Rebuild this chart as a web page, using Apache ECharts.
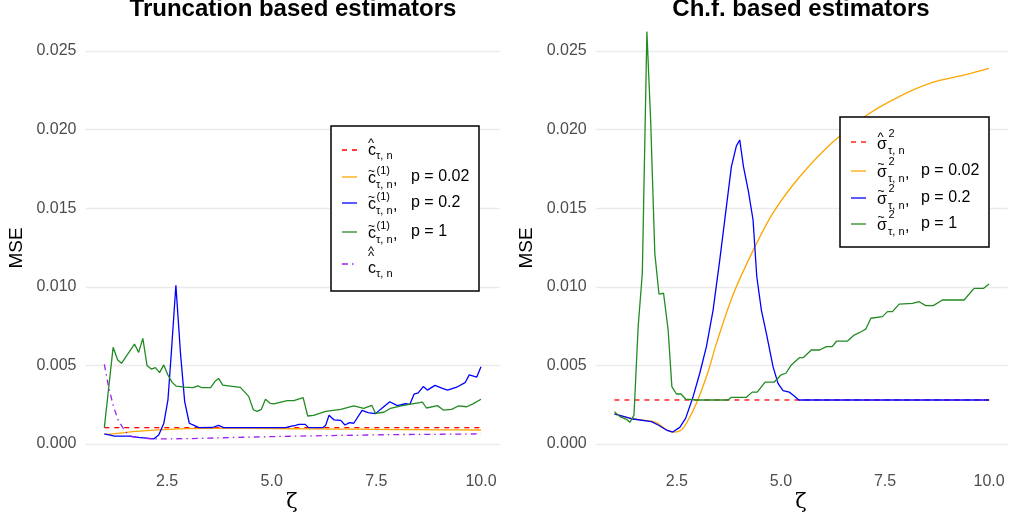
<!DOCTYPE html>
<html>
<head>
<meta charset="utf-8">
<script src="https://cdn.jsdelivr.net/npm/echarts@6/dist/echarts.min.js"></script>
<style>
html, body { margin: 0; padding: 0; background: #fff; }
#chart { width: 1011px; height: 522px; }
</style>
</head>
<body>
<div id="chart"></div>
<script>
// ---- data: [zeta, MSE] ----
var xTicks = [2.5, 5.0, 7.5, 10.0];

// truncation based estimators
var truncHat = [[1.0, 0.00104], [10.0, 0.00104]];
var truncP002 = [[1.0, 0.0006], [1.25, 0.00066], [1.5, 0.00073], [1.75, 0.0008], [2.0, 0.00085], [2.5, 0.00093],
    [3.0, 0.00098], [4.0, 0.001], [5.0, 0.00098], [6.0, 0.00096], [7.0, 0.00094], [8.0, 0.00092], [9.0, 0.0009], [10.0, 0.00089]];
var truncP02 = [[1.0, 0.00064], [1.22, 0.00051], [1.58, 0.00050], [1.82, 0.00042], [2.18, 0.00032], [2.30, 0.00057],
    [2.42, 0.00130], [2.52, 0.00280], [2.60, 0.00577], [2.71, 0.01010], [2.82, 0.00577], [2.92, 0.00269], [3.03, 0.00132],
    [3.13, 0.00120], [3.26, 0.00104], [3.58, 0.00105], [3.73, 0.00119], [3.85, 0.00104], [5.33, 0.00104], [5.45, 0.00112],
    [5.57, 0.00119], [5.65, 0.00125], [5.80, 0.00125], [5.88, 0.00104], [6.22, 0.00104], [6.29, 0.00120], [6.37, 0.00183],
    [6.49, 0.00153], [6.65, 0.00150], [6.75, 0.00121], [6.86, 0.00136], [6.96, 0.00132], [7.16, 0.00214], [7.30, 0.00200],
    [7.48, 0.00193], [7.62, 0.00225], [7.82, 0.00269], [8.00, 0.00244], [8.20, 0.00256], [8.30, 0.00252], [8.40, 0.00317],
    [8.50, 0.00325], [8.62, 0.00365], [8.72, 0.00343], [8.90, 0.00373], [9.08, 0.00354], [9.20, 0.00343], [9.44, 0.00364],
    [9.62, 0.00390], [9.72, 0.00440], [9.90, 0.00426], [10.0, 0.00492]];
var truncP1 = [[1.0, 0.00104], [1.21, 0.00615], [1.32, 0.00534], [1.41, 0.00513], [1.72, 0.00636], [1.82, 0.00583],
    [1.92, 0.00672], [2.02, 0.00500], [2.12, 0.00477], [2.22, 0.00486], [2.32, 0.00454], [2.42, 0.00503], [2.52, 0.00439],
    [2.62, 0.00392], [2.72, 0.00368], [2.92, 0.00362], [3.12, 0.00358], [3.24, 0.00370], [3.33, 0.00358], [3.54, 0.00358],
    [3.64, 0.00397], [3.73, 0.00417], [3.83, 0.00374], [4.25, 0.00360], [4.45, 0.00303], [4.56, 0.00218], [4.65, 0.00207],
    [4.75, 0.00220], [4.85, 0.00284], [4.96, 0.00259], [5.05, 0.00255], [5.37, 0.00276], [5.53, 0.00276], [5.75, 0.00295],
    [5.86, 0.00178], [6.0, 0.00182], [6.29, 0.00208], [6.65, 0.00220], [6.96, 0.00242], [7.2, 0.00227], [7.39, 0.00246],
    [7.48, 0.00195], [7.68, 0.00202], [7.84, 0.00227], [8.12, 0.00244], [8.6, 0.00267], [8.7, 0.00229], [8.96, 0.00244],
    [9.1, 0.00216], [9.3, 0.00220], [9.46, 0.00242], [9.66, 0.00237], [9.82, 0.00257], [10.0, 0.00285]];
var truncDoubleHat = [[1.0, 0.00507], [1.1, 0.00365], [1.22, 0.00237], [1.33, 0.00153], [1.5, 0.00078], [1.66, 0.00047],
    [1.9, 0.00038], [2.2, 0.00032], [3.0, 0.00034], [4.0, 0.00041], [5.0, 0.00047], [6.0, 0.00052], [7.0, 0.00056],
    [8.0, 0.0006], [9.0, 0.00062], [10.0, 0.00064]];

// ch.f. based estimators
var chfHat = [[1.0, 0.0028], [10.0, 0.0028]];
var chfP002 = [[1.0, 0.0019], [1.45, 0.0016], [1.89, 0.00145], [2.05, 0.0013], [2.25, 0.0009], [2.45, 0.00076],
    [2.6, 0.00088], [2.73, 0.00132], [2.97, 0.00259], [3.25, 0.0046], [3.45, 0.0064], [3.85, 0.0095], [4.33, 0.0123],
    [4.81, 0.0147], [5.45, 0.017], [6.24, 0.0192], [7.05, 0.0209], [7.84, 0.0221], [8.64, 0.023], [9.44, 0.0235], [10.0, 0.0239]];
var chfP02 = [[1.0, 0.00191], [1.45, 0.00159], [1.89, 0.00142], [2.05, 0.00121], [2.25, 0.00089], [2.40, 0.00076],
    [2.57, 0.00106], [2.71, 0.00163], [2.89, 0.00301], [3.05, 0.0045], [3.21, 0.00619], [3.37, 0.00852], [3.53, 0.0117],
    [3.69, 0.0151], [3.81, 0.01764], [3.93, 0.01896], [4.01, 0.01934], [4.10, 0.01764], [4.22, 0.01605], [4.33, 0.01425],
    [4.42, 0.01064], [4.53, 0.00852], [4.65, 0.00704], [4.81, 0.00492], [4.93, 0.00386], [5.05, 0.00339], [5.2, 0.0033],
    [5.29, 0.00312], [5.43, 0.0028], [10.0, 0.0028]];
var chfP1 = [[1.0, 0.00206], [1.13, 0.00174], [1.29, 0.00157], [1.37, 0.00138], [1.47, 0.00184], [1.57, 0.00746],
    [1.67, 0.01086], [1.78, 0.02623], [1.87, 0.0206], [1.97, 0.01213], [2.07, 0.00954], [2.18, 0.00959], [2.29, 0.00725],
    [2.38, 0.00365], [2.49, 0.00318], [2.60, 0.00318], [2.71, 0.00286], [2.96, 0.0028], [3.73, 0.0028], [3.81, 0.00297],
    [4.17, 0.00297], [4.31, 0.0033], [4.43, 0.0033], [4.62, 0.00394], [4.84, 0.00394], [5.0, 0.00439], [5.12, 0.0045],
    [5.25, 0.00503], [5.45, 0.0055], [5.54, 0.0055], [5.73, 0.00598], [5.93, 0.00598], [6.09, 0.00619], [6.23, 0.00619],
    [6.34, 0.00655], [6.6, 0.00655], [6.76, 0.00693], [6.96, 0.00719], [7.04, 0.00732], [7.16, 0.008], [7.44, 0.0081],
    [7.56, 0.00842], [7.68, 0.00842], [7.84, 0.0089], [8.16, 0.00895], [8.32, 0.00905], [8.48, 0.0088], [8.66, 0.0088],
    [8.88, 0.00916], [9.4, 0.00916], [9.64, 0.0099], [9.87, 0.0099], [10.0, 0.01018]];

var FONT = '"Liberation Sans", Arial, sans-serif';
var RED = '#ff0000', ORANGE = '#ffa500', BLUE = '#0000ff', GREEN = '#228b22', PURPLE = '#a020f0';
var DASHED = [5, 5], DOTDASH = [6, 4, 1.5, 4];

function xAxis(idx) {
    return {
        type: 'value', gridIndex: idx, min: 0.55, max: 10.45,
        axisLine: { show: false }, axisTick: { show: false }, splitLine: { show: false },
        axisLabel: {
            customValues: xTicks, margin: 30, fontSize: 16, fontFamily: FONT, color: '#4d4d4d',
            formatter: function (v) { return v.toFixed(1); }
        }
    };
}
function yAxis(idx) {
    return {
        type: 'value', gridIndex: idx, min: 0, max: 0.0272, interval: 0.005,
        axisLine: { show: false }, axisTick: { show: false },
        // last colour hides the line drawn at the top of the extent
        splitLine: { lineStyle: { color: ['#ebebeb', '#ebebeb', '#ebebeb', '#ebebeb', '#ebebeb', '#ebebeb', 'rgba(0,0,0,0)'], width: 1.3 } },
        axisLabel: {
            showMaxLabel: false, margin: 9, fontSize: 16, fontFamily: FONT, color: '#4d4d4d',
            formatter: function (v) { return v.toFixed(3); }
        }
    };
}
function line(data, idx, color, dash, z, smooth) {
    return {
        type: 'line', xAxisIndex: idx, yAxisIndex: idx, data: data,
        symbol: 'none', silent: true, z: z,
        smooth: smooth || false,
        lineStyle: { color: color, width: 1.3, type: dash || 'solid' },
        itemStyle: { color: color }
    };
}

// ---- legend drawing helpers ----
function txt(x, y, s, size) {
    return { type: 'text', x: x, y: y, z: 100,
        style: { text: s, fontSize: size, fontFamily: FONT, fill: '#000', align: 'left', verticalAlign: 'middle' } };
}
function key(x, y, color, dash) {
    return { type: 'line', z: 100, shape: { x1: x, y1: y, x2: x + 15, y2: y },
        style: { stroke: color, lineWidth: 1.3, lineDash: dash || null } };
}
function box(x, y, w, h) {
    return { type: 'rect', z: 99, shape: { x: x, y: y, width: w, height: h },
        style: { fill: '#fff', stroke: '#000', lineWidth: 1.5 } };
}
function tildeItem(y, color, ptext) {
    return [
        key(342, y, color),
        txt(368, y + 2, 'c', 16),
        txt(368, y - 5.5, '~', 12),
        txt(376.5, y - 6, '(1)', 11),
        txt(376, y + 7.5, 'τ, n', 11),
        txt(393, y + 3, ',', 16),
        txt(411, y, ptext, 16)
    ];
}

var leftLegend = [box(331, 126, 148, 165)]
    .concat([key(342, 150, RED, DASHED), txt(368, 151, 'c', 16), txt(368, 143.5, '^', 13), txt(376, 156, 'τ, n', 11)])
    .concat(tildeItem(177, ORANGE, 'p = 0.02'))
    .concat(tildeItem(203, BLUE, 'p = 0.2'))
    .concat(tildeItem(232, GREEN, 'p = 1'))
    .concat([key(342, 264, PURPLE, DOTDASH), txt(368, 269, 'c', 16), txt(368, 256, '^', 13), txt(368, 251.5, '^', 13),
        txt(376, 274, 'τ, n', 11)]);

function sigmaItem(y, color, ptext) {
    return [
        key(851, y, color),
        txt(877, y + 1.5, 'σ', 16),
        txt(877.5, y - 6.5, '~', 12),
        txt(888.5, y - 9, '2', 11),
        txt(888, y + 7.5, 'τ, n', 11),
        txt(905, y + 3, ',', 16),
        txt(921, y, ptext, 16)
    ];
}
var rightLegend = [box(840, 117, 149, 130)]
    .concat([key(851, 142, RED, DASHED), txt(877, 145, 'σ', 16), txt(877.5, 137.5, '^', 13), txt(888.5, 134, '2', 11),
        txt(888, 151, 'τ, n', 11)])
    .concat(sigmaItem(171, ORANGE, 'p = 0.02'))
    .concat(sigmaItem(198, BLUE, 'p = 0.2'))
    .concat(sigmaItem(224, GREEN, 'p = 1'));

function label(x, y, s, size, opts) {
    var st = { text: s, fontSize: size, fontFamily: FONT, fill: '#000', align: 'center', verticalAlign: 'middle' };
    for (var k in (opts || {})) st[k] = opts[k];
    return { type: 'text', x: x, y: y, rotation: (opts && opts.rot) || 0, style: st };
}
var titles = [
    label(293, 9, 'Truncation based estimators', 24, { fontWeight: 'bold' }),
    label(801, 9, 'Ch.f. based estimators', 24, { fontWeight: 'bold' }),
    label(17, 248, 'MSE', 19, { rot: Math.PI / 2 }),
    label(527, 248, 'MSE', 19, { rot: Math.PI / 2 }),
    label(292, 503, 'ζ', 21, { fontFamily: '"DejaVu Serif", serif' }),
    label(801, 503, 'ζ', 21, { fontFamily: '"DejaVu Serif", serif' })
];

var chart = echarts.init(document.getElementById('chart'));
var option = {
    animation: false,
    backgroundColor: '#fff',
    grid: [
        { left: 85.5, right: 511.2, top: 16.4, bottom: 78 },
        { left: 595.7, right: 3.2, top: 16.4, bottom: 78 }
    ],
    xAxis: [xAxis(0), xAxis(1)],
    yAxis: [yAxis(0), yAxis(1)],
    series: [
        line(truncHat, 0, RED, DASHED, 2),
        line(truncP002, 0, ORANGE, null, 3, 0.3),
        line(truncP02, 0, BLUE, null, 4),
        line(truncP1, 0, GREEN, null, 5),
        line(truncDoubleHat, 0, PURPLE, DOTDASH, 6),
        line(chfHat, 1, RED, DASHED, 2),
        line(chfP002, 1, ORANGE, null, 3, 0.3),
        line(chfP02, 1, BLUE, null, 4),
        line(chfP1, 1, GREEN, null, 5)
    ],
    graphic: titles.concat(leftLegend, rightLegend)
};
chart.setOption(option);
</script>
</body>
</html>
